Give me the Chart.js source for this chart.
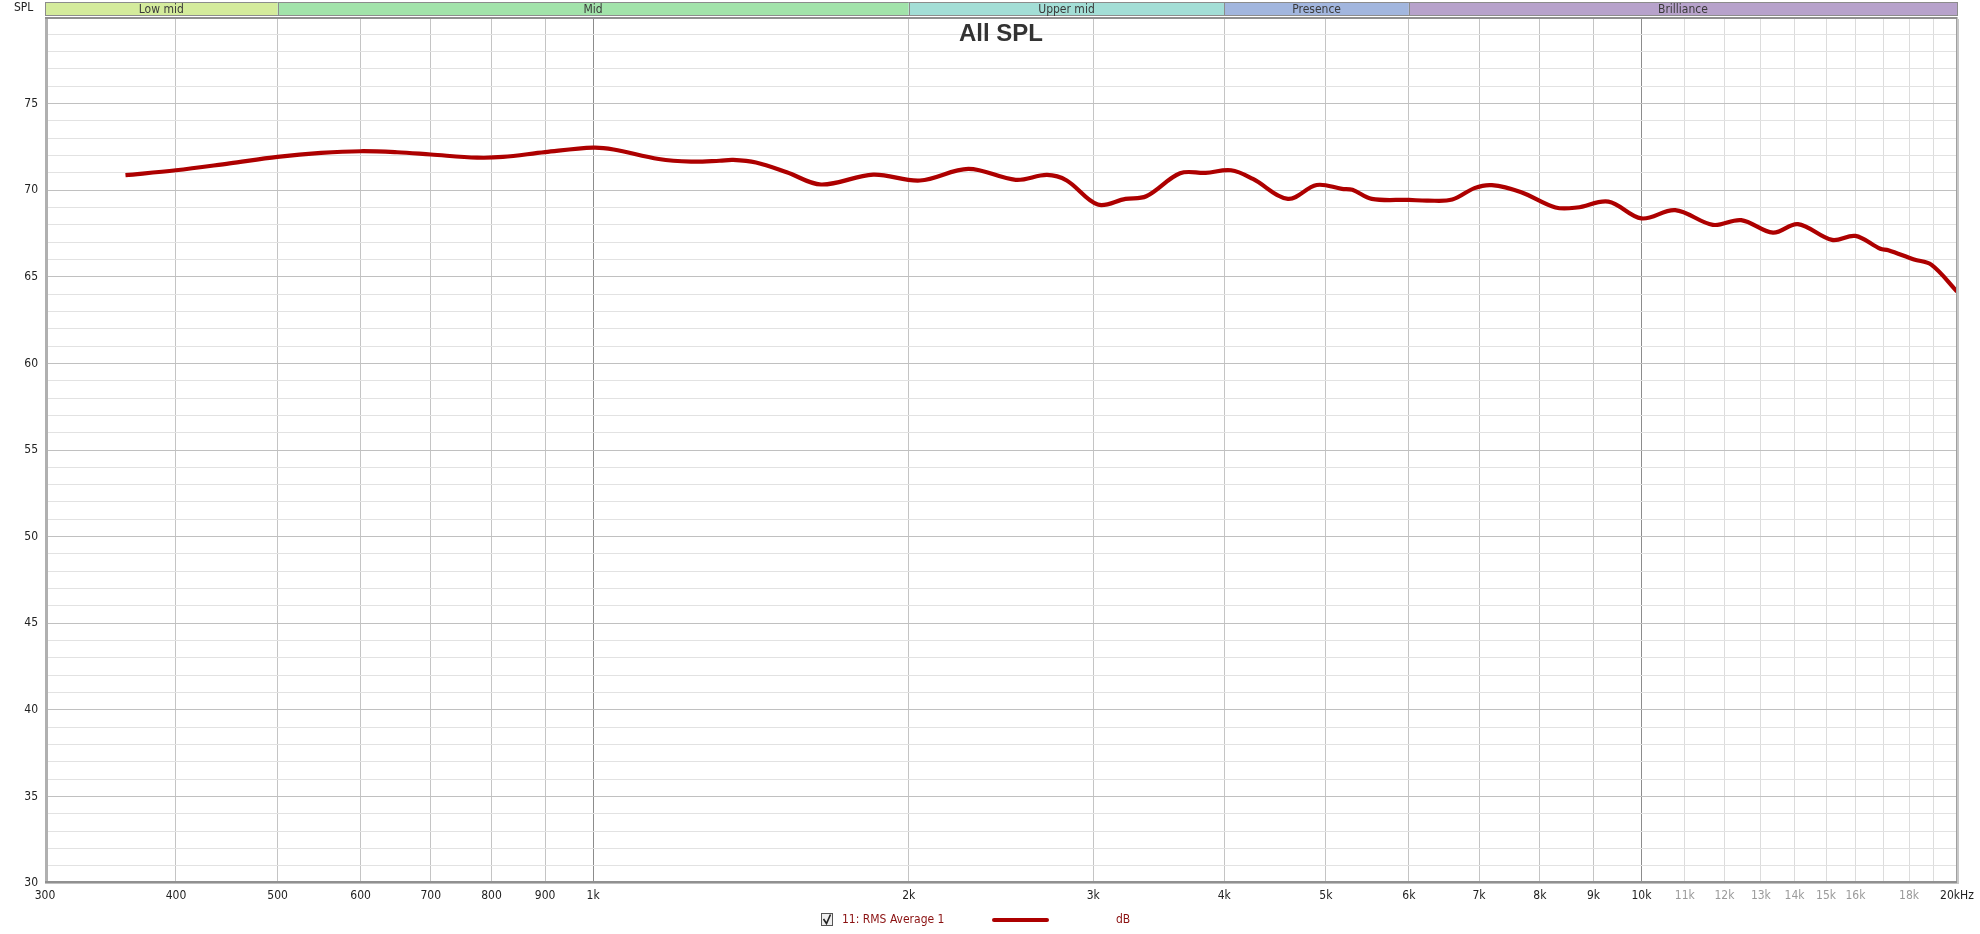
<!DOCTYPE html>
<html>
<head>
<meta charset="utf-8">
<script src="https://cdn.jsdelivr.net/npm/chart.js@4.4.1/dist/chart.umd.min.js"></script>
<style>
html,body{margin:0;padding:0;background:#fff;}
#wrap{width:1980px;height:934px;position:relative;}
</style>
</head>
<body>
<div id="wrap"><canvas id="c" width="1980" height="934"></canvas></div>
<script>
// ---- data ----
const freqHz = [358,400,450,500,550,600,650,700,775,820,900,1000,1046,1155,1240,1320,1360,1430,1530,1650,1850,2050,2280,2530,2710,2830,3030,3220,3370,3630,3840,4060,4260,4600,4900,5180,5300,5530,6000,6250,6600,6930,7200,7680,8280,8680,9300,10000,10770,11700,12450,13350,14100,15200,16000,16900,17200,18200,18900,20000];
const splDb = [70.87,71.15,71.55,71.92,72.15,72.25,72.19,72.06,71.88,71.92,72.2,72.46,72.35,71.8,71.65,71.7,71.75,71.6,71.04,70.33,70.9,70.56,71.23,70.6,70.88,70.56,69.17,69.5,69.65,70.98,71.0,71.15,70.65,69.5,70.3,70.08,70.02,69.5,69.44,69.4,69.46,70.12,70.29,69.88,69.0,69.0,69.34,68.37,68.85,68.0,68.27,67.55,68.04,67.13,67.36,66.62,66.54,66.0,65.7,64.15];
const xTickValues = [300,400,500,600,700,800,900,1000,2000,3000,4000,5000,6000,7000,8000,9000,10000,11000,12000,13000,14000,15000,16000,17000,18000,19000,20000];
const xTickLabels = ['300','400','500','600','700','800','900','1k','2k','3k','4k','5k','6k','7k','8k','9k','10k','11k','12k','13k','14k','15k','16k','','18k','','20kHz'];
const bandNames = ['Low mid','Mid','Upper mid','Presence','Brilliance'];
const bandStarts = [300,500,2000,4000,6000];
const bandEnds = [500,2000,4000,6000,20000];
const bandColors = ['#d4eb9c','#a2e3aa','#a3ded6','#a2b6de','#b7a2cb'];
const yMin = 30, yMax = 80;
const seriesName = '11: RMS Average 1';
const unitLabel = 'dB';
const titleText = 'All SPL';
const yAxisTitle = 'SPL';

const FONT = "'Liberation Sans Narrow','DejaVu Sans Condensed','Liberation Sans',Arial,sans-serif";
const CURVE = '#ad0000';

const decorPlugin = {
  id: 'decor',
  beforeDraw(chart){
    const ctx = chart.ctx;
    ctx.save();
    ctx.fillStyle = '#fff';
    ctx.fillRect(0,0,chart.width,chart.height);
    ctx.restore();
  },
  afterDraw(chart){
    const ctx = chart.ctx, ca = chart.chartArea, xs = chart.scales.x;
    ctx.save();
    // plot frame
    ctx.strokeStyle = '#a0a0a0'; ctx.lineWidth = 1;
    ctx.strokeRect(ca.left+0.5, ca.top+0.5, ca.right-ca.left-1, ca.bottom-ca.top-1);
    ctx.strokeStyle = '#b0b0b0'; ctx.lineWidth = 3;
    ctx.beginPath(); ctx.moveTo(ca.left+1.5, ca.top); ctx.lineTo(ca.left+1.5, ca.bottom); ctx.stroke();
    ctx.strokeStyle = '#909090'; ctx.lineWidth = 2;
    ctx.beginPath(); ctx.moveTo(ca.left, ca.top+1); ctx.lineTo(ca.right, ca.top+1); ctx.stroke();
    ctx.beginPath(); ctx.moveTo(ca.left, ca.bottom-1); ctx.lineTo(ca.right, ca.bottom-1); ctx.stroke();
    ctx.strokeStyle = '#c8c8c8'; ctx.lineWidth = 2;
    ctx.beginPath(); ctx.moveTo(ca.right+1, ca.top+2); ctx.lineTo(ca.right+1, ca.bottom+1); ctx.stroke();
    // band bar
    const bTop = 2, bBot = 15;
    ctx.font = "12px " + FONT;
    ctx.textAlign = 'center'; ctx.textBaseline = 'middle';
    for (let i=0;i<bandNames.length;i++){
      const x0 = Math.max(xs.getPixelForValue(bandStarts[i]), ca.left);
      const x1 = Math.min(xs.getPixelForValue(bandEnds[i]), ca.right);
      ctx.fillStyle = bandColors[i];
      ctx.fillRect(x0, bTop, x1-x0, bBot-bTop);
      ctx.strokeStyle = '#8c8c8c'; ctx.lineWidth = 1;
      ctx.strokeRect(Math.round(x0)+0.5, bTop+0.5, Math.round(x1-x0), bBot-bTop);
      ctx.fillStyle = '#3a3a3a';
      ctx.fillText(bandNames[i], (x0+x1)/2, (bTop+bBot)/2+1);
    }
    // SPL label
    ctx.fillStyle = '#222';
    ctx.font = "12px " + FONT;
    ctx.textAlign = 'left';
    ctx.fillText(yAxisTitle, 14, 8);
    // Title
    ctx.font = "bold 24px 'Liberation Sans',Arial,sans-serif";
    ctx.fillStyle = '#333';
    ctx.textAlign = 'center';
    ctx.fillText(titleText, (ca.left+ca.right)/2, 34);
    // legend
    const ly = 920;
    ctx.strokeStyle = '#555'; ctx.lineWidth = 1;
    ctx.fillStyle = '#eee';
    ctx.fillRect(821.5, 913.5, 11, 12);
    ctx.strokeRect(821.5, 913.5, 11, 12);
    ctx.strokeStyle = '#222'; ctx.lineWidth = 1.6;
    ctx.beginPath(); ctx.moveTo(823.5, 919); ctx.lineTo(826.5, 923.5); ctx.lineTo(830.5, 914.5); ctx.stroke();
    ctx.fillStyle = '#8a1010';
    ctx.font = "12px " + FONT;
    ctx.textAlign = 'left';
    ctx.fillText(seriesName, 842, ly);
    ctx.strokeStyle = CURVE; ctx.lineWidth = 4; ctx.lineCap = 'round';
    ctx.beginPath(); ctx.moveTo(994, ly); ctx.lineTo(1047, ly); ctx.stroke();
    ctx.fillText(unitLabel, 1116, ly);
    ctx.restore();
  }
};

const grayTick = v => v > 10000 && v < 20000;

new Chart(document.getElementById('c'), {
  type: 'line',
  data: {
    datasets: [{
      label: seriesName,
      data: freqHz.map((f,i)=>({x:f, y:splDb[i]})),
      borderColor: CURVE,
      borderWidth: 4.2,
      pointRadius: 0,
      tension: 0.35,
      fill: false
    }]
  },
  options: {
    responsive: false,
    devicePixelRatio: 1,
    animation: false,
    layout: { padding: { top: 17, right: 23, left: 0, bottom: 0 } },
    plugins: { legend: { display: false }, title: { display: false }, tooltip: { enabled: false } },
    scales: {
      x: {
        type: 'logarithmic',
        min: 300, max: 20000,
        afterBuildTicks: s => { s.ticks = xTickValues.map(v => ({value: v})); },
        afterFit: s => { s.height = 51; },
        border: { display: false },
        grid: {
          drawTicks: false,
          color: c => {
            const v = c.tick ? c.tick.value : 0;
            if (v === 1000 || v === 10000) return '#8c8c8c';
            if (v > 10000 && v < 20000) return '#dcdcdc';
            return '#c4c4c4';
          },
          lineWidth: 1
        },
        ticks: {
          autoSkip: false, maxRotation: 0, minRotation: 0, padding: 6,
          font: { family: FONT, size: 12 },
          color: c => grayTick(c.tick.value) ? '#9a9a9a' : '#222',
          callback: (v) => { const i = xTickValues.indexOf(v); return i >= 0 ? xTickLabels[i] : ''; }
        }
      },
      y: {
        type: 'linear',
        min: yMin, max: yMax,
        afterFit: s => { s.width = 45; },
        border: { display: false },
        grid: {
          drawTicks: false,
          color: c => (c.tick && c.tick.value % 5 === 0) ? '#c0c0c0' : '#e2e2e2',
          lineWidth: 1
        },
        ticks: {
          stepSize: 1, autoSkip: false, padding: 7,
          font: { family: FONT, size: 12 },
          color: '#222',
          callback: v => (v % 5 === 0 && v < yMax) ? String(v) : ''
        }
      }
    }
  },
  plugins: [decorPlugin]
});
</script>
</body>
</html>
